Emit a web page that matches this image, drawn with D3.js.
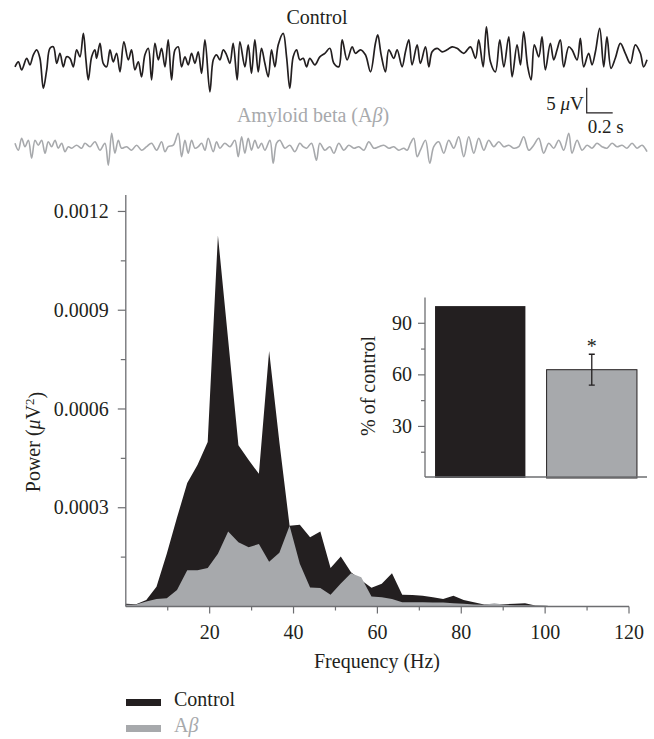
<!DOCTYPE html>
<html>
<head>
<meta charset="utf-8">
<script src="https://cdn.jsdelivr.net/npm/d3@7"></script>
<style>
  html, body { margin: 0; padding: 0; background: #fff; }
  svg { display: block; font-family: "Liberation Serif", "DejaVu Serif", serif; }
  text, tspan { font-family: "Liberation Serif", "DejaVu Serif", serif; fill: #231f20; }
</style>
</head>
<body>
<svg id="chart" width="654" height="739" font-family="Liberation Serif, DejaVu Serif, serif"></svg>
<script>
// ---------- DATA ----------
// EEG traces: [time (ms), amplitude (µV)]
const controlTrace = [[0,-1.7],[26,-0.7],[51,-2.3],[90,0],[115,-1.3],[141,0.7],[167,1.7],[192,0],[218,-6.0],[244,-2.3],[269,2.0],[295,2.3],[321,-1.0],[346,1.0],[372,-1.7],[397,0.3],[423,0],[449,-1.7],[474,1.7],[500,0.3],[526,5.0],[546,-0.3],[564,-4.3],[590,0.3],[615,1.7],[628,0],[654,3.0],[679,-1.0],[705,-1.7],[731,1.7],[756,-0.7],[782,1.0],[808,-2.7],[838,3.3],[872,-0.3],[897,1.7],[923,-2.3],[949,-0.7],[974,-3.7],[1000,0.7],[1026,2.0],[1051,-4.3],[1077,3.0],[1103,-0.3],[1128,2.0],[1154,-1.7],[1179,3.7],[1205,-4.3],[1231,1.7],[1256,2.3],[1282,-1.7],[1308,0.3],[1333,-1.3],[1359,1.0],[1385,-1.0],[1410,1.3],[1436,-3.0],[1462,3.7],[1500,-6.7],[1526,-0.3],[1551,0.7],[1577,-0.3],[1603,1.7],[1628,0.7],[1654,-1.0],[1679,3.0],[1710,-4.3],[1731,3.3],[1769,-1.7],[1795,2.7],[1820,-3.0],[1846,3.7],[1872,-2.7],[1897,2.0],[1923,-1.0],[1949,-3.7],[1974,1.7],[2000,-1.7],[2026,2.7],[2064,5.0],[2090,0.3],[2115,-6.0],[2141,0.3],[2167,1.7],[2192,-0.3],[2218,0],[2244,-1.7],[2269,0],[2308,-1.3],[2346,0.3],[2385,1.0],[2423,2.0],[2454,-1.0],[2492,-1.7],[2518,3.7],[2556,-0.3],[2595,2.3],[2620,1.0],[2659,1.7],[2697,0.7],[2736,-2.7],[2774,3.0],[2792,4.7],[2818,0.7],[2851,-2.7],[2877,1.7],[2915,0],[2941,1.7],[2979,-1.7],[3005,1.3],[3031,3.7],[3056,-1.3],[3095,2.7],[3120,-1.0],[3159,2.3],[3185,-1.7],[3210,1.3],[3249,2.0],[3287,1.3],[3326,1.7],[3364,2.3],[3402,2.0],[3454,1.0],[3505,2.3],[3544,0],[3569,3.7],[3603,-1.7],[3628,6.3],[3659,-0.7],[3697,-2.7],[3731,3.7],[3762,-1.7],[3800,4.3],[3826,-3.7],[3864,2.7],[3890,-1.3],[3915,5.3],[3946,-1.7],[3972,-4.3],[3997,2.7],[4031,0.3],[4056,4.3],[4082,-2.3],[4120,3.0],[4146,-0.3],[4172,1.7],[4197,3.7],[4223,-1.7],[4262,2.3],[4287,1.7],[4326,-0.3],[4351,4.0],[4377,-1.7],[4415,1.0],[4441,-1.3],[4467,1.3],[4500,6.0],[4531,-1.7],[4556,4.3],[4587,-2.0],[4620,0],[4659,3.0],[4697,1.0],[4736,-1.0],[4774,2.7],[4813,1.0],[4838,-1.7],[4864,-0.3]];

const abetaTrace = [[0,0.7],[26,-0.7],[51,1.7],[77,0],[103,1.3],[128,-2.3],[154,1.3],[179,0.3],[205,1.3],[231,-1.3],[256,1.0],[282,0],[308,1.3],[333,-0.3],[359,0.7],[385,-1.0],[410,0],[436,-0.3],[474,0.3],[513,-0.3],[538,0.7],[577,0],[615,1.0],[654,-0.7],[692,0.7],[718,-3.7],[744,2.7],[769,-1.3],[795,1.3],[820,-0.3],[859,0],[897,-0.7],[936,0.3],[974,-0.7],[1013,0],[1051,0.7],[1090,-0.7],[1128,1.0],[1154,-1.0],[1179,0],[1218,0.3],[1256,2.7],[1282,-2.0],[1308,1.3],[1333,-1.3],[1359,1.3],[1385,-0.3],[1410,0],[1436,0.7],[1462,-0.7],[1487,1.7],[1526,-1.0],[1551,1.0],[1577,-0.3],[1615,0.7],[1654,0],[1692,1.3],[1718,-2.0],[1744,2.0],[1769,-1.3],[1795,1.7],[1820,-0.7],[1846,1.3],[1872,-0.3],[1897,0.7],[1923,-0.7],[1962,1.3],[1987,-3.3],[2013,0.7],[2038,1.3],[2077,-0.3],[2115,0.3],[2154,-1.0],[2192,0.7],[2218,0],[2244,-0.3],[2282,0.7],[2320,-2.7],[2346,0.7],[2385,-0.7],[2423,0],[2454,-1.3],[2492,0.7],[2531,-0.7],[2569,0.3],[2608,-0.3],[2646,0],[2685,-0.7],[2723,1.0],[2761,-0.3],[2800,0],[2838,0.3],[2877,-0.3],[2915,0],[2954,-0.7],[2992,-0.3],[3018,-0.7],[3044,0.7],[3069,1.7],[3095,-2.0],[3120,-0.7],[3159,1.3],[3192,-3.3],[3223,0],[3261,1.0],[3300,-1.3],[3338,1.3],[3377,-0.3],[3415,2.0],[3454,-2.0],[3492,2.0],[3531,-1.3],[3569,1.7],[3608,-0.7],[3646,1.3],[3685,0],[3723,1.0],[3762,0],[3800,0.3],[3838,-0.3],[3877,0],[3915,2.0],[3954,-0.7],[3992,0.3],[4031,1.7],[4069,-1.3],[4108,0.7],[4146,-0.3],[4185,1.3],[4223,-0.7],[4262,2.7],[4287,-1.3],[4326,1.3],[4364,-0.7],[4403,0.3],[4441,-0.3],[4479,0.7],[4518,0],[4556,-0.3],[4595,0.7],[4633,0],[4672,0.3],[4710,-0.3],[4749,0.7],[4787,-0.3],[4826,0.3],[4864,-1.0]];

// Power spectrum
const frequencies = [0,2.44,4.88,7.32,9.77,12.21,14.65,17.09,19.53,21.97,24.41,26.86,29.30,31.74,34.18,36.62,39.06,41.50,43.95,46.39,48.83,51.27,53.71,56.15,58.59,61.04,63.48,65.92,68.36,70.80,73.24,75.68,78.13,80.57,83.01,85.45,87.89,90.33,92.77,95.21,97.66,100.10,102.54];
const controlPower = [0.000008,0.000007,0.00002,0.00006,0.00016,0.00027,0.000375,0.00043,0.0005,0.001127,0.00081,0.00049,0.000445,0.000403,0.000776,0.0005,0.000245,0.000248,0.00021,0.000228,0.000117,0.000152,0.000104,0.00008,0.000057,0.000069,0.000101,0.000036,0.000035,0.000033,0.000028,0.000023,0.000033,0.00002,0.000013,0.000006,0.000007,0.000007,0.000008,0.00001,0.000003,0.000002,0];
const abetaPower = [0.000005,0.000006,0.000015,0.000023,0.000025,0.00005,0.00011,0.00011,0.000117,0.00016,0.000228,0.000195,0.00018,0.00019,0.000136,0.000163,0.000245,0.00013,0.000058,0.000056,0.000036,0.00007,0.000101,0.000089,0.00003,0.000028,0.000023,0.000013,0.000013,0.000013,0.000012,0.000012,0.00001,0.000008,0.000006,0.000005,0.00001,0.000005,0.000004,0.000004,0.000003,0.000002,0];
const powerTicks = [0.0003,0.0006,0.0009,0.0012];
const freqTicks = [20,40,60,80,100,120];

// Inset
const insetGroups = ["Control","Aβ"];
const insetValues = [100, 63];
const insetErrors = [0, 9];
const insetTicks = [30,60,90];

// ---------- DRAW ----------
const BLACK = "#231f20", GRAY = "#a7a9ac", AXIS = "#6d6e71";
const FONT = "'Liberation Serif', 'DejaVu Serif', serif";
const svg = d3.select("#chart");
const txt = (sel) => sel.append("text").style("font-family", FONT);

// Traces
const tScale = d3.scaleLinear().domain([0, 4864]).range([15, 647]);
const yCtrl = d3.scaleLinear().domain([-10, 10]).range([108.3, 8.3]);
const yAb = d3.scaleLinear().domain([-10, 10]).range([196.7, 96.7]);

svg.append("path").datum(controlTrace)
  .attr("d", d3.line().curve(d3.curveCatmullRom.alpha(0.5)).x(d => tScale(d[0])).y(d => yCtrl(d[1])))
  .attr("fill", "none").attr("stroke", BLACK).attr("stroke-width", 1.7).attr("stroke-linejoin", "round");
svg.append("path").datum(abetaTrace)
  .attr("d", d3.line().curve(d3.curveCatmullRom.alpha(0.5)).x(d => tScale(d[0])).y(d => yAb(d[1])))
  .attr("fill", "none").attr("stroke", GRAY).attr("stroke-width", 1.6).attr("stroke-linejoin", "round");

txt(svg).attr("x", 317).attr("y", 24).attr("text-anchor", "middle")
  .style("font-size", "20px").text("Control");
const abT = txt(svg).attr("x", 313).attr("y", 122).attr("text-anchor", "middle")
  .style("font-size", "20px").style("fill", GRAY);
abT.append("tspan").style("fill", GRAY).text("Amyloid beta (A");
abT.append("tspan").style("font-style", "italic").style("fill", GRAY).text("β");
abT.append("tspan").style("fill", GRAY).text(")");

// scale bar (5 µV, 0.2 s)
const sbX = tScale(4400), sbY = yCtrl(-10.9);
svg.append("path")
  .attr("d", `M${sbX},${sbY - (yCtrl(0) - yCtrl(5))}V${sbY}H${sbX + (tScale(200) - tScale(0))}`)
  .attr("fill", "none").attr("stroke", BLACK).attr("stroke-width", 1.2);
const sbT = txt(svg).attr("x", sbX - 3).attr("y", 110).attr("text-anchor", "end").style("font-size", "19px");
sbT.append("tspan").text("5 ");
sbT.append("tspan").style("font-style", "italic").text("μ");
sbT.append("tspan").text("V");
txt(svg).attr("x", sbX + 19).attr("y", 133).attr("text-anchor", "middle").style("font-size", "19px").text("0.2 s");

// Main spectrum
const x = d3.scaleLinear().domain([0, 120]).range([125.8, 629]);
const y = d3.scaleLinear().domain([0, 0.00125]).range([606.5, 195]);

const area = vals => d3.area()
  .x((d, i) => x(frequencies[i])).y0(y(0)).y1((d) => y(d))(vals);

svg.append("path").attr("d", area(controlPower)).attr("fill", BLACK);
svg.append("path").attr("d", area(abetaPower)).attr("fill", GRAY);

// x axis
const xAxisG = svg.append("g").attr("transform", `translate(0,${y(0)})`);
xAxisG.append("line").attr("x1", x(0)).attr("x2", x(120)).attr("stroke", AXIS).attr("stroke-width", 1.3);
xAxisG.selectAll(".minor").data(d3.range(10, 120, 20)).join("line")
  .attr("x1", d => x(d)).attr("x2", d => x(d)).attr("y1", 0).attr("y2", 4)
  .attr("stroke", AXIS).attr("stroke-width", 1.2);
xAxisG.selectAll(".major").data(freqTicks).join("line")
  .attr("x1", d => x(d)).attr("x2", d => x(d)).attr("y1", 0).attr("y2", 7)
  .attr("stroke", AXIS).attr("stroke-width", 1.2);
xAxisG.selectAll("text").data(freqTicks).join("text")
  .style("font-family", FONT)
  .attr("x", d => x(d)).attr("y", 32).attr("text-anchor", "middle")
  .style("font-size", "20px").text(d => d);
txt(svg).attr("x", 377).attr("y", 668).attr("text-anchor", "middle")
  .style("font-size", "20px").text("Frequency (Hz)");

// y axis
const yAxisG = svg.append("g").attr("transform", `translate(${x(0)},0)`);
yAxisG.append("line").attr("y1", y(0)).attr("y2", y(0.00125)).attr("stroke", AXIS).attr("stroke-width", 1.3);
yAxisG.selectAll(".minor").data([0.00015,0.00045,0.00075,0.00105]).join("line")
  .attr("y1", d => y(d)).attr("y2", d => y(d)).attr("x1", 0).attr("x2", -5)
  .attr("stroke", AXIS).attr("stroke-width", 1.2);
yAxisG.selectAll(".major").data(powerTicks).join("line")
  .attr("y1", d => y(d)).attr("y2", d => y(d)).attr("x1", 0).attr("x2", -8)
  .attr("stroke", AXIS).attr("stroke-width", 1.2);
yAxisG.selectAll("text").data(powerTicks).join("text")
  .style("font-family", FONT)
  .attr("x", -17).attr("y", d => y(d)).attr("dy", "0.33em").attr("text-anchor", "end")
  .style("font-size", "20px").text(d => d.toFixed(4));
const yl = txt(svg).attr("transform", "translate(40,442) rotate(-90)")
  .attr("text-anchor", "middle").style("font-size", "20px");
yl.append("tspan").text("Power (");
yl.append("tspan").style("font-style", "italic").text("μ");
yl.append("tspan").text("V");
yl.append("tspan").attr("dy", "-0.45em").style("font-size", "13px").text("2");
yl.append("tspan").attr("dy", "0.45em").text(")");

// Inset bar chart
const bx = d3.scaleBand().domain(insetGroups).range([425, 647]).paddingInner(0.19).paddingOuter(0.09);
const by = d3.scaleLinear().domain([0, 105]).range([478, 297.5]);
svg.selectAll(".bar").data(insetGroups).join("rect")
  .attr("x", d => bx(d)).attr("width", bx.bandwidth())
  .attr("y", (d, i) => by(insetValues[i])).attr("height", (d, i) => by(0) - by(insetValues[i]))
  .attr("fill", (d, i) => i === 0 ? BLACK : GRAY)
  .attr("stroke", BLACK).attr("stroke-width", (d, i) => i === 0 ? 0 : 1);
// error bar + significance mark
insetGroups.forEach((g, i) => {
  if (!insetErrors[i]) return;
  const cx = bx(g) + bx.bandwidth() / 2;
  const top = by(insetValues[i] + insetErrors[i]), bot = by(insetValues[i] - insetErrors[i]);
  svg.append("path")
    .attr("d", `M${cx - 3},${top}H${cx + 3}M${cx},${top}V${bot}M${cx - 3},${bot}H${cx + 3}`)
    .attr("stroke", BLACK).attr("stroke-width", 1.3).attr("fill", "none");
  txt(svg).attr("x", cx).attr("y", top - 1)
    .attr("text-anchor", "middle").style("font-size", "20px").text("*");
});
svg.append("line").attr("x1", 425).attr("x2", 647).attr("y1", by(0) - 1).attr("y2", by(0) - 1)
  .attr("stroke", AXIS).attr("stroke-width", 1.3);
svg.append("line").attr("x1", 425).attr("x2", 425).attr("y1", by(0) - 1).attr("y2", by(105))
  .attr("stroke", AXIS).attr("stroke-width", 1.3);
svg.selectAll(".iminor").data([15,45,75]).join("line")
  .attr("x1", 425).attr("x2", 421).attr("y1", d => by(d)).attr("y2", d => by(d))
  .attr("stroke", AXIS).attr("stroke-width", 1.2);
svg.selectAll(".imajor").data(insetTicks).join("line")
  .attr("x1", 425).attr("x2", 418).attr("y1", d => by(d)).attr("y2", d => by(d))
  .attr("stroke", AXIS).attr("stroke-width", 1.2);
svg.selectAll(".ilab").data(insetTicks).join("text")
  .style("font-family", FONT)
  .attr("x", 412).attr("y", d => by(d)).attr("dy", "0.33em").attr("text-anchor", "end")
  .style("font-size", "20px").text(d => d);
txt(svg).attr("transform", "translate(375,386) rotate(-90)")
  .attr("text-anchor", "middle").style("font-size", "20px").text("% of control");

// Legend
const legend = [{label: "Control", color: BLACK}, {label: "Aβ", color: GRAY}];
legend.forEach((l, i) => {
  const yy = 699 + i * 26;
  svg.append("rect").attr("x", 126).attr("y", yy).attr("width", 35).attr("height", 7).attr("fill", l.color);
  const t = txt(svg).attr("x", 174).attr("y", yy + 7).style("font-size", "20px").style("fill", l.color);
  if (i === 0) t.text(l.label);
  else { t.append("tspan").style("fill", GRAY).text("A"); t.append("tspan").style("font-style", "italic").style("fill", GRAY).text("β"); }
});
</script>
</body>
</html>
